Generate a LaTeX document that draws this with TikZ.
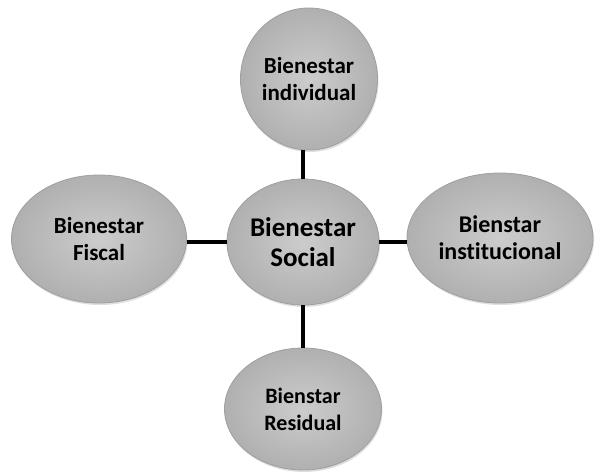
\documentclass[tikz,border=0pt]{standalone}
\usepackage{fontspec}
\setmainfont[Ligatures=NoCommon]{Carlito}
\usetikzlibrary{shapes.geometric,shadows}
\tikzset{
  blob/.style={ellipse, inner sep=0pt, align=center,
    font=\bfseries\fontsize{23}{27}\selectfont,
    draw=gray!75, line width=0.8pt,
    inner color=gray!40, outer color=gray!62,
    drop shadow={opacity=0.25, shadow xshift=1pt, shadow yshift=-2pt}},
  link/.style={line width=3.5pt, black}
}
\begin{document}
\begin{tikzpicture}[x=1pt,y=-1pt]
  \useasboundingbox (0,0) rectangle (594,471);
  \node[blob, minimum width=152pt, minimum height=126pt,
    font=\bfseries\fontsize{27}{30}\selectfont] (soc) at (303,242) {Bienestar\\Social};
  \node[blob, minimum width=137pt, minimum height=142pt] (ind) at (309,79) {Bienestar\\individual};
  \node[blob, minimum width=175pt, minimum height=128pt] (fis) at (99,239) {Bienestar\\Fiscal};
  \node[blob, minimum width=186pt, minimum height=130pt,
    font=\bfseries\fontsize{24}{27}\selectfont] (ins) at (500,238) {Bienstar\\institucional};
  \node[blob, minimum width=157pt, minimum height=122pt,
    font=\bfseries\fontsize{22}{27}\selectfont] (res) at (303,409) {Bienstar\\Residual};
  \begin{scope}[link]
    \draw (soc.north) -- (soc.north |- ind.south);
    \draw (soc.west) -- (soc.west -| fis.east);
    \draw (soc.east) -- (soc.east -| ins.west);
    \draw (soc.south) -- (res.north);
  \end{scope}
\end{tikzpicture}
\end{document}
